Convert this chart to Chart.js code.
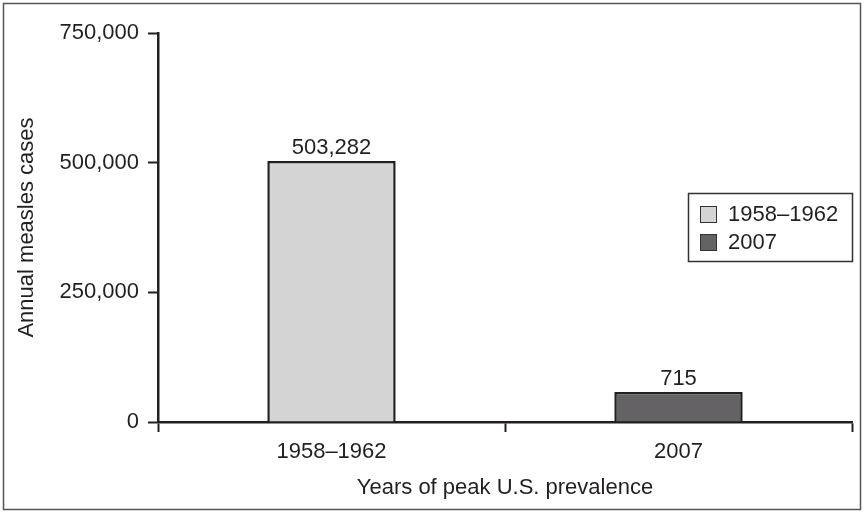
<!DOCTYPE html>
<html>
<head>
<meta charset="utf-8">
<script src="https://cdn.jsdelivr.net/npm/chart.js@4/dist/chart.umd.min.js"></script>
<style>
  html, body { margin: 0; padding: 0; background: #ffffff; }
  #wrap { width: 864px; height: 512px; position: relative; }
</style>
</head>
<body>
<div id="wrap"><canvas id="c" width="864" height="512"></canvas></div>
<script>
// ---- data ----
const categories = ["1958\u20131962", "2007"];
const reportedCases = [503282, 715];          // values printed above the bars
const plottedCases = [503282, 58000];         // bar heights as drawn in the reference (2007 bar is exaggerated)
const yTicks = [0, 250000, 500000, 750000];
const barColors = ["#d4d4d4", "#646264"];
const yTitle = "Annual measles cases";
const xTitle = "Years of peak U.S. prevalence";

const FONT = "'Liberation Sans', Arial, Helvetica, sans-serif";
const FS = 22;
const INK = "#231f20";

const fmt = v => v.toLocaleString("en-US");

const framePlugin = {
  id: "frame",
  beforeDraw(chart) {
    const ctx = chart.ctx;
    ctx.save();
    ctx.fillStyle = "#ffffff";
    ctx.fillRect(0, 0, chart.width, chart.height);
    ctx.strokeStyle = "#555";
    ctx.lineWidth = 1.5;
    ctx.strokeRect(3.5, 3.5, chart.width - 7, chart.height - 6);
    ctx.restore();
  }
};

const valueLabelPlugin = {
  id: "valueLabels",
  afterDatasetsDraw(chart) {
    const ctx = chart.ctx;
    const meta = chart.getDatasetMeta(0);
    ctx.save();
    ctx.font = FS + "px " + FONT;
    ctx.fillStyle = INK;
    ctx.textAlign = "center";
    ctx.textBaseline = "alphabetic";
    meta.data.forEach((bar, i) => {
      ctx.fillText(fmt(reportedCases[i]), bar.x, bar.y - 7);
    });
    ctx.restore();
  }
};

const boxLegendPlugin = {
  id: "boxLegend",
  afterDraw(chart) {
    const ctx = chart.ctx;
    const area = chart.chartArea;
    const w = 164, h = 68;
    const x0 = area.right - w, y0 = 193;
    ctx.save();
    ctx.strokeStyle = "#333";
    ctx.lineWidth = 1.5;
    ctx.strokeRect(x0 + 0.5, y0 + 0.5, w, h);
    ctx.font = FS + "px " + FONT;
    ctx.textBaseline = "middle";
    ctx.textAlign = "left";
    categories.forEach((name, i) => {
      const cy = y0 + 21 + i * 28;
      ctx.fillStyle = barColors[i];
      ctx.fillRect(x0 + 12, cy - 8, 16, 16);
      ctx.strokeStyle = "#333";
      ctx.lineWidth = 1;
      ctx.strokeRect(x0 + 12.5, cy - 7.5, 16, 16);
      ctx.fillStyle = INK;
      ctx.fillText(name, x0 + 40, cy + 1);
    });
    ctx.restore();
  }
};

new Chart(document.getElementById("c"), {
  type: "bar",
  data: {
    labels: categories,
    datasets: [{
      label: "Annual measles cases",
      data: plottedCases,
      backgroundColor: barColors,
      borderColor: INK,
      borderWidth: 2.5,
      borderSkipped: "start",
      barPercentage: 0.37,
      categoryPercentage: 1.0
    }]
  },
  options: {
    responsive: false,
    animation: false,
    devicePixelRatio: 1,
    layout: { padding: { left: 0, top: 33, right: 12, bottom: 0 } },
    plugins: {
      legend: { display: false },
      tooltip: { enabled: false }
    },
    scales: {
      x: {
        offset: true,
        grid: {
          offset: true,
          drawOnChartArea: false,
          drawTicks: true,
          tickLength: 10,
          tickColor: INK,
          tickWidth: 2
        },
        border: { display: true, color: INK, width: 2.5 },
        ticks: {
          color: INK,
          font: { family: FONT, size: FS },
          padding: 7,
          maxRotation: 0
        },
        title: {
          display: true,
          text: xTitle,
          color: INK,
          font: { family: FONT, size: FS },
          padding: { top: 0, bottom: 11 }
        },
        afterFit(scale) { scale.height = 90; }
      },
      y: {
        min: 0,
        max: 750000,
        afterBuildTicks(scale) { scale.ticks = yTicks.map(v => ({ value: v })); },
        grid: {
          drawOnChartArea: false,
          drawTicks: true,
          tickLength: 10,
          tickColor: INK,
          tickWidth: 2
        },
        border: { display: true, color: INK, width: 2.5 },
        ticks: {
          color: INK,
          font: { family: FONT, size: FS },
          padding: 9,
          callback: v => fmt(v)
        },
        title: {
          display: true,
          text: yTitle,
          color: INK,
          font: { family: FONT, size: FS },
          padding: { top: 14, bottom: 0 }
        },
        afterFit(scale) { scale.width = 158; }
      }
    }
  },
  plugins: [framePlugin, valueLabelPlugin, boxLegendPlugin]
});
</script>
</body>
</html>
